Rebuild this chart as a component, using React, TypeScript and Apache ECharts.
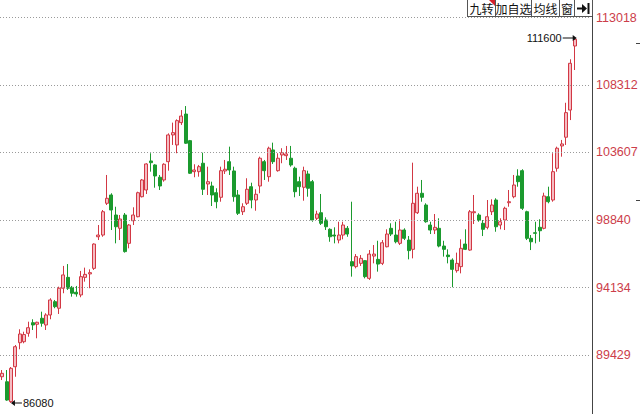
import React, { useEffect, useRef } from "react";
import * as echarts from "echarts";

// candle values: [open, close, low, high]
const candles: number[][] = [
  [87910, 88150, 87680, 88380],
  [87560, 86280, 86230, 88380],
  [86170, 88500, 86080, 88590],
  [88610, 90010, 87910, 90130],
  [90290, 90900, 89830, 91230],
  [90360, 90860, 90250, 91060],
  [90950, 91340, 90710, 91760],
  [91690, 91530, 91180, 91930],
  [91580, 91720, 90600, 91760],
  [92000, 91650, 91410, 92460],
  [91530, 92230, 91180, 92350],
  [92230, 93280, 91930, 93400],
  [93160, 92810, 92700, 93280],
  [92700, 94100, 92300, 94210],
  [94100, 95030, 93750, 95660],
  [94860, 94100, 93980, 95790],
  [94160, 93750, 93510, 94260],
  [93820, 93700, 93510, 94260],
  [93630, 94910, 93470, 95310],
  [94860, 95070, 94560, 95540],
  [95100, 95190, 94100, 95420],
  [95490, 97190, 95380, 97240],
  [97700, 97820, 97470, 98520],
  [97820, 99450, 97700, 99570],
  [100040, 100390, 99920, 102020],
  [100620, 99570, 98170, 100740],
  [99220, 98400, 97240, 99800],
  [98290, 98940, 97470, 99220],
  [99220, 96660, 96590, 99360],
  [97240, 98520, 96890, 98590],
  [98820, 99220, 98520, 99760],
  [99100, 100780, 99060, 100850],
  [100500, 101670, 100450, 101740],
  [100970, 102790, 100690, 102840],
  [103000, 102880, 102250, 103540],
  [102720, 101950, 101130, 102770],
  [101860, 101250, 100970, 102020],
  [101670, 102770, 101550, 102840],
  [102950, 104820, 102320, 104930],
  [104820, 104980, 104120, 105680],
  [104120, 105820, 103540, 105910],
  [105680, 106140, 105520, 106560],
  [106280, 104240, 104190, 106840],
  [104420, 102140, 102090, 104470],
  [102250, 102370, 101860, 102770],
  [102250, 102600, 101900, 102720],
  [102840, 101020, 100620, 103580],
  [101390, 101550, 100620, 102600],
  [101250, 100620, 99850, 101550],
  [100780, 100150, 99690, 101090],
  [100460, 102320, 100150, 102600],
  [102300, 102420, 102090, 103070],
  [102950, 102370, 102020, 104000],
  [102300, 100500, 100150, 102600],
  [100620, 99340, 99220, 100970],
  [99450, 99800, 99220, 100040],
  [100040, 101020, 99920, 101790],
  [101200, 100270, 99690, 101480],
  [100270, 100670, 99520, 101020],
  [101250, 103190, 100740, 103300],
  [102950, 102320, 101670, 103070],
  [101900, 103890, 101550, 104000],
  [103770, 102950, 102790, 104280],
  [102320, 103190, 102250, 103540],
  [103420, 103580, 102840, 103890],
  [103370, 103490, 103070, 104050],
  [103190, 102720, 102600, 104050],
  [102490, 100850, 100460, 102600],
  [101550, 101200, 100550, 101900],
  [101160, 102320, 100220, 102600],
  [102090, 101090, 100500, 102320],
  [101550, 98870, 98750, 101670],
  [98990, 99290, 98870, 99520],
  [99380, 98640, 98520, 100690],
  [98870, 98400, 98170, 99060],
  [98220, 97700, 97350, 98290],
  [97820, 97750, 97240, 98360],
  [97470, 97820, 97240, 98750],
  [97820, 98520, 97520, 98750],
  [98290, 97890, 97700, 98450],
  [95960, 95660, 94910, 100150],
  [95610, 96310, 95490, 96490],
  [95840, 96190, 95660, 96420],
  [96030, 94910, 94790, 96070],
  [94790, 96490, 94680, 96770],
  [96350, 96490, 95840, 97120],
  [96120, 95790, 95260, 97420],
  [95840, 97280, 95720, 97470],
  [97000, 97890, 96960, 98220],
  [98290, 97890, 97750, 98640],
  [97820, 97350, 97240, 98750],
  [97240, 98170, 97120, 98920],
  [98170, 97590, 97470, 98290],
  [97470, 96730, 96120, 97750],
  [96820, 100040, 96190, 102880],
  [99380, 100740, 99290, 101200],
  [100740, 100460, 100150, 101670],
  [99920, 98750, 98680, 100040],
  [98520, 98170, 97890, 98750],
  [98170, 98360, 97890, 99290],
  [98290, 97050, 96960, 98990],
  [97050, 96820, 96310, 97420],
  [96420, 96310, 95840, 96820],
  [96070, 95420, 94170, 96190],
  [95330, 95840, 95190, 96590],
  [95610, 96890, 95140, 97520],
  [97190, 96820, 96770, 98220],
  [96770, 99450, 96720, 99570],
  [99380, 99450, 98590, 100620],
  [99220, 98870, 98750, 99340],
  [98640, 98220, 97750, 98870],
  [98360, 99100, 98220, 100270],
  [99450, 99920, 99220, 100320],
  [100270, 98400, 98050, 100390],
  [98520, 98750, 98220, 98990],
  [98870, 99690, 98170, 99800],
  [100080, 100150, 99800, 100970],
  [100500, 101320, 100390, 102020],
  [101950, 101550, 101200, 102420],
  [102320, 99690, 99570, 102420],
  [99450, 97590, 97470, 99520],
  [97590, 97350, 96770, 97820],
  [97980, 97940, 97240, 98750],
  [98360, 98120, 97350, 98920],
  [98290, 100550, 98220, 100780],
  [100500, 100150, 100040, 101200],
  [100270, 102250, 100150, 103540],
  [102490, 103890, 102250, 104000],
  [104050, 104190, 103300, 104470],
  [104660, 106380, 104120, 107070],
  [106560, 109830, 105860, 110110],
  [111040, 111510, 109360, 111600],
];

const slotCount = 135;
const categories = Array.from({ length: slotCount }, (_, i) => String(i + 1));

const yTicks = [113018, 108312, 103607, 98840, 94134, 89429];
const yMin = 85305;
const yMax = 114256;

const highMark = { index: 131, value: 111600 };
const lowMark = { index: 2, value: 86080 };

const toolbarButtons = ["九转", "加自选", "均线", "窗"];

const UP_FILL = "#f5bcc2";
const UP_LINE = "#d23844";
const DOWN = "#1b9a2e";

export default function App() {
  const ref = useRef<HTMLDivElement>(null);

  useEffect(() => {
    if (!ref.current) return;
    const chart = echarts.init(ref.current, undefined, { renderer: "svg" });

    const btnX = [467.5, 495.5, 531.5, 559.5, 574.5, 592.5];
    const graphics: any[] = [
      { type: "rect", shape: { x: 467, y: 0, width: 125, height: 16 }, style: { fill: "#ffffff" }, z: 10 },
      { type: "line", shape: { x1: 467, y1: 16.5, x2: 592, y2: 16.5 }, style: { stroke: "#555", lineWidth: 1 }, z: 11 },
    ];
    btnX.forEach((x) => {
      graphics.push({ type: "line", shape: { x1: x, y1: 0, x2: x, y2: 16 }, style: { stroke: "#555", lineWidth: 1 }, z: 11 });
    });
    toolbarButtons.forEach((t, i) => {
      graphics.push({
        type: "text",
        x: (btnX[i] + btnX[i + 1]) / 2,
        y: 8.5,
        style: {
          text: t,
          fill: "#111",
          font: '12px "Noto Sans CJK SC", sans-serif',
          align: "center",
          verticalAlign: "middle",
        },
        z: 12,
      });
    });
    graphics.push(
      { type: "polygon", shape: { points: [[489, 0], [495, 0], [495, 6]] }, style: { fill: "#d4202c" }, z: 12 },
      { type: "rect", shape: { x: 577, y: 7.5, width: 6, height: 2 }, style: { fill: "#111" }, z: 12 },
      { type: "polygon", shape: { points: [[582, 4], [587, 8.5], [582, 13]] }, style: { fill: "#111" }, z: 12 },
      { type: "rect", shape: { x: 587.5, y: 3, width: 2, height: 11 }, style: { fill: "#111" }, z: 12 },
      { type: "line", shape: { x1: 592.5, y1: 0, x2: 592.5, y2: 414 }, style: { stroke: "#444", lineWidth: 1 }, z: 9 },
      { type: "line", shape: { x1: 636, y1: 43.5, x2: 640, y2: 43.5 }, style: { stroke: "#444", lineWidth: 1 }, z: 9 },
      { type: "line", shape: { x1: 636, y1: 200.5, x2: 640, y2: 200.5 }, style: { stroke: "#444", lineWidth: 1 }, z: 9 }
    );

    chart.setOption({
      animation: false,
      backgroundColor: "#ffffff",
      grid: { left: 0, top: 0, width: 590, height: 414, containLabel: false },
      xAxis: {
        type: "category",
        data: categories,
        boundaryGap: true,
        show: false,
      },
      yAxis: {
        type: "value",
        min: yMin,
        max: yMax,
        show: false,
        splitLine: { show: false },
      },
      graphic: graphics,
      series: [
        {
          type: "candlestick",
          data: candles,
          barWidth: 3.5,
          itemStyle: {
            color: UP_FILL,
            borderColor: UP_LINE,
            color0: DOWN,
            borderColor0: DOWN,
            borderWidth: 1,
          },
          markLine: {
            silent: true,
            symbol: ["none", "none"],
            lineStyle: { color: "#9a9a9a", type: [1, 2], width: 1 },
            label: {
              show: true,
              position: "end",
              distance: 6,
              color: "#cc3d4a",
              fontSize: 12.5,
              fontFamily: "Arial, 'Liberation Sans', sans-serif",
              formatter: (p: any) => String(p.value),
            },
            data: yTicks.map((v) => ({ yAxis: v })),
          },
          markPoint: {
            silent: true,
            data: [
              {
                coord: [categories[highMark.index], highMark.value],
                value: highMark.value,
                symbol: "path://M0,4.5L10,4.5L10,2L14,5L10,8L10,5.5L0,5.5Z",
                symbolSize: [14, 6],
                symbolOffset: [-5, 0],
                itemStyle: { color: "#111" },
                label: {
                  show: true,
                  position: "left",
                  distance: 1,
                  color: "#111",
                  fontSize: 11,
                  fontFamily: "Arial, 'Liberation Sans', sans-serif",
                  formatter: String(highMark.value),
                },
              },
              {
                coord: [categories[lowMark.index], lowMark.value],
                value: lowMark.value,
                symbol: "path://M11,4.5L4,4.5L4,2L0,5L4,8L4,5.5L11,5.5Z",
                symbolSize: [11, 6],
                symbolOffset: [5.5, 0],
                itemStyle: { color: "#111" },
                label: {
                  show: true,
                  position: "right",
                  distance: 1,
                  color: "#111",
                  fontSize: 11,
                  fontFamily: "Arial, 'Liberation Sans', sans-serif",
                  formatter: String(lowMark.value),
                },
              },
            ],
          },
        },
      ],
    });

    return () => chart.dispose();
  }, []);

  return (
    <div
      ref={ref}
      style={{ position: "fixed", left: 0, top: 0, width: 640, height: 414, background: "#fff" }}
    />
  );
}
